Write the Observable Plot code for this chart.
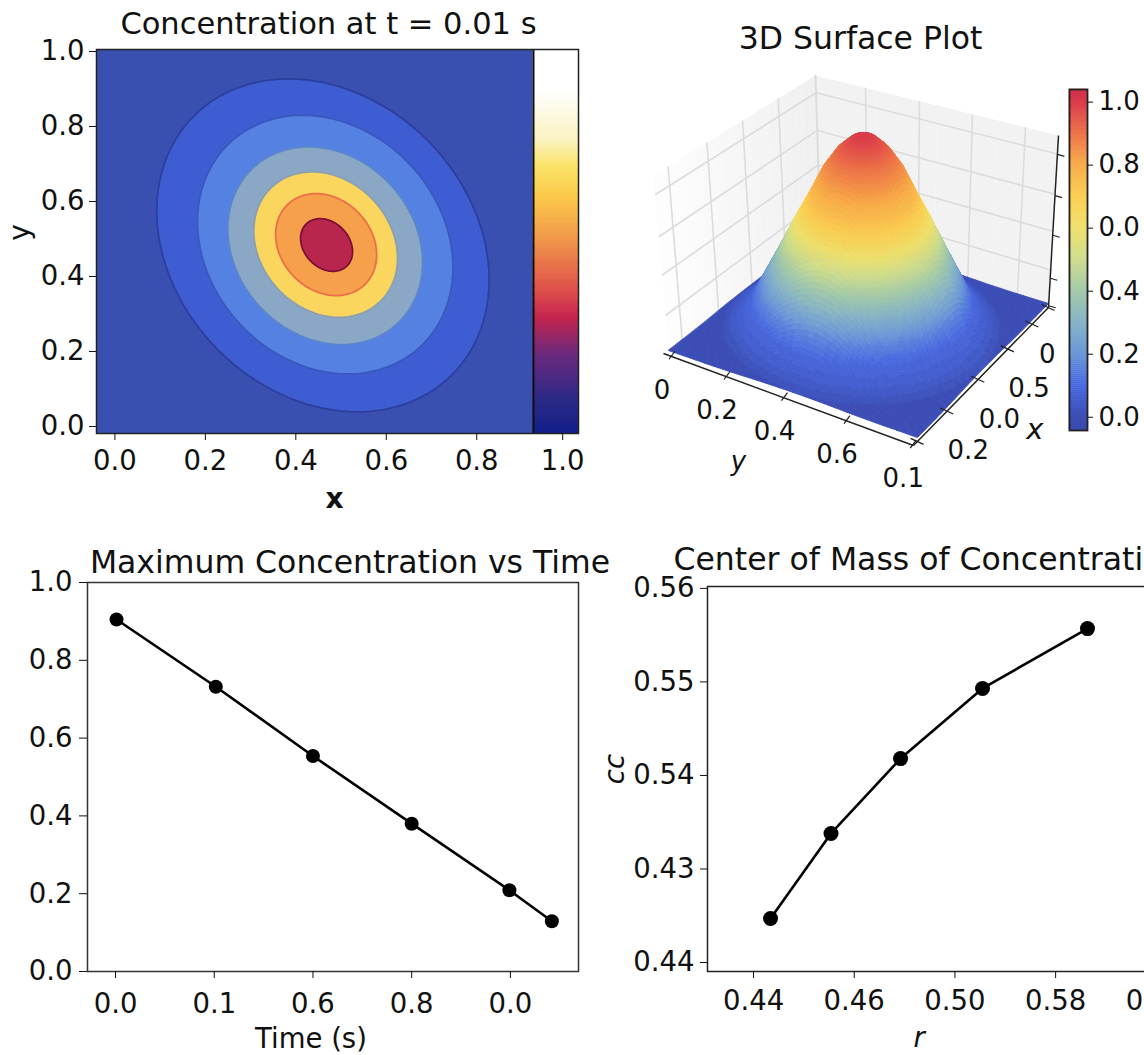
<!DOCTYPE html>
<html>
<head>
<meta charset="utf-8">
<script src="https://cdn.jsdelivr.net/npm/d3@7"></script>
<script src="https://cdn.jsdelivr.net/npm/@observablehq/plot@0.6"></script>
<style>
html,body{margin:0;padding:0;background:#fff;overflow:hidden}
#root{position:relative;width:1144px;height:1055px;overflow:hidden;background:#fff}
svg{position:absolute}
</style>
</head>
<body>
<div id="root"></div>
<script>
// ---------- Data ----------
const timeValues = [0.001, 0.1016, 0.2, 0.3, 0.399, 0.442];
const maxConcentration = [0.905, 0.732, 0.554, 0.38, 0.209, 0.129];
const timeTicks = [0, 0.1, 0.2, 0.3, 0.4];
const timeTickLabels = ["0.0", "0.1", "0.6", "0.8", "0.0"];
const unitTicks = [0, 0.2, 0.4, 0.6, 0.8, 1];
const unitTickLabels = ["0.0", "0.2", "0.4", "0.6", "0.8", "1.0"];

const massR = [0.44338, 0.45539, 0.4692, 0.48548, 0.50633];
const massC = [0.5247, 0.5338, 0.5418, 0.5493, 0.5557];
const rTicks = [0.44, 0.46, 0.48, 0.5, 0.52];
const rTickLabels = ["0.44", "0.46", "0.50", "0.58", "0.60"];
const cTicks = [0.52, 0.53, 0.54, 0.55, 0.56];
const cTickLabels = ["0.44", "0.43", "0.54", "0.55", "0.56"];

// Contour bands at t = 0.01 s: centre, half extents and tilt of each closed level
const levelCx = [0.46, 0.465, 0.465, 0.466, 0.467, 0.468];
const levelCy = [0.483, 0.485, 0.482, 0.485, 0.485, 0.484];
const levelW = [0.3675, 0.2825, 0.2154, 0.159, 0.1117, 0.0574];
const levelH = [0.444, 0.345, 0.2636, 0.194, 0.136, 0.0702];
const levelTilt = [-0.207, -0.177, -0.17, -0.187, -0.2, -0.25];
const levelFill = ["#3f5dd2", "#5582e2", "#8aa8c6", "#fbd65e", "#f6a04c", "#b8264e"];
const levelEdge = ["#2c3f9c", "#3a58bc", "#5c86cc", "#8d9fae", "#ea6e48", "#7c1034"];
const fieldBackground = "#3a50b0";

// Colormap shown beside the contour plot
const bar1Stops = [0, 0.08, 0.2, 0.3, 0.367, 0.5, 0.61, 0.69, 0.76, 0.89, 1];
const bar1Colors = ["#15208a", "#2a2a86", "#6a2a80", "#c4264f", "#de4f4c", "#f0964a", "#fcc84a", "#fae266", "#faf3c0", "#ffffff", "#ffffff"];

// Surface colormap
const surfStops = [-0.04, 0, 0.1, 0.2, 0.3, 0.4, 0.5, 0.6, 0.7, 0.8, 0.9, 1, 1.04];
const surfColors = ["#3a4ab0", "#3b4db5", "#4a6ae0", "#6a96d8", "#85b2c5", "#a2c9a8", "#cfdc8a", "#f0e06a", "#fbcd50", "#f8ab48", "#ec7048", "#d93a4a", "#d0304e"];
const barTicks = [1, 0.8, 0.6, 0.4, 0.2, 0];
const barTickLabels = ["1.0", "0.8", "0.0", "0.4", "0.2", "0.0"];

// Surface height against distance from the peak on the floor
const profileR = [0, 0.025, 0.05, 0.1, 0.15, 0.2, 0.25, 0.3, 0.35, 0.4, 0.45, 0.5, 0.55, 0.6, 1];
const profileZ = [1, 0.994, 0.975, 0.91, 0.81, 0.67, 0.54, 0.40, 0.265, 0.13, 0.05, 0.008, 0.002, 0, 0];
// Height against the shade it takes on the colormap, as seen on the front face
const shadeHeight = [0, 0.05, 0.13, 0.2, 0.27, 0.4, 0.5, 0.6, 0.7, 0.9, 1];
const shadeValue = [0, 0.05, 0.09, 0.15, 0.24, 0.4, 0.52, 0.65, 0.75, 0.9, 1];

// 3D view: ticks along the axes
const yAxisTicks = [0.03, 0.25, 0.48, 0.73, 0.995];
const yAxisLabels = ["0", "0.2", "0.4", "0.6", "0.1"];
const xAxisTicks = [0.03, 0.25, 0.48, 0.7, 0.88, 1];
const xLabelTicks = [0.25, 0.48, 0.7];
const xAxisLabels = ["0.2", "0.0", "0.5"];
const zAxisTicks = [0.01, 0.17, 0.42, 0.65, 0.89];
const leftWallGrid = [0.09, 0.33, 0.55, 0.77];
const rightWallGrid = [0.206, 0.428, 0.646, 0.864];
const wallLevels = [0.2, 0.43, 0.65, 0.89];

// ---------- Helpers ----------
const root = document.getElementById("root");
const font = "'DejaVu Sans', sans-serif";
const baseStyle = {fontFamily: font, fontSize: "27.5px", background: "transparent", overflow: "visible", color: "#111"};
const style3d = {...baseStyle, fontSize: "26px"};
function place(svg, left, top) { svg.style.left = left + "px"; svg.style.top = top + "px"; root.appendChild(svg); }
const lookup = (keys, vals) => { const m = new Map(keys.map((k, i) => [k, vals[i]])); return d => m.get(d) ?? ""; };
const lerp = (a, b, t) => [a[0] + (b[0] - a[0]) * t, a[1] + (b[1] - a[1]) * t];

// ---------- Panel 1: contour ----------
const x1Min = -0.0407, x1Max = 1.025, xDivider = 0.9255;
const contourRows = levelW.map((w, i) =>
  d3.range(0, 120).map(k => {
    const t = k / 120 * 2 * Math.PI, d = Math.acos(levelTilt[i]);
    return {x: levelCx[i] + w * Math.cos(t), y: levelCy[i] + levelH[i] * Math.cos(t - d)};
  })
);
const bar1Rows = d3.range(0, 192).map(i => ({v0: i / 192, v1: (i + 1) / 192}));
const y1Min = -0.0187, y1Max = 1.0053;
const toY1 = v => y1Min + (y1Max - y1Min) * v;
place(Plot.plot({
  width: 600, height: 520, marginLeft: 96, marginRight: 22, marginTop: 49, marginBottom: 87,
  style: baseStyle,
  x: {domain: [x1Min, x1Max]}, y: {domain: [y1Min, y1Max]},
  color: {type: "linear", domain: bar1Stops, range: bar1Colors, interpolate: "rgb"},
  marks: [
    Plot.frame({fill: fieldBackground, stroke: null}),
    ...contourRows.map((rows, i) => Plot.line(rows, {x: "x", y: "y", curve: "linear-closed", fill: levelFill[i], stroke: levelEdge[i], strokeWidth: 1.8})),
    Plot.rect(bar1Rows, {x1: () => xDivider, x2: () => x1Max, y1: d => toY1(d.v0), y2: d => toY1(d.v1), fill: "v0", stroke: "v0", strokeWidth: 0.6}),
    Plot.ruleX([xDivider], {stroke: "#111", strokeWidth: 2}),
    Plot.frame({stroke: "#222", strokeWidth: 1.5}),
    Plot.axisX({ticks: [0, 0.2, 0.4, 0.6, 0.8, 0.99], tickFormat: lookup([0, 0.2, 0.4, 0.6, 0.8, 0.99], unitTickLabels), tickSize: 7, tickPadding: 10, label: null, fontVariant: "normal"}),
    Plot.axisY({ticks: unitTicks, tickFormat: lookup(unitTicks, unitTickLabels), tickSize: 7, tickPadding: 5, label: null, fontVariant: "normal"}),
    Plot.text(["Concentration at t = 0.01 s"], {frameAnchor: "top", lineAnchor: "middle", dy: -25, dx: -9, fontSize: 30.5}),
    Plot.text(["x"], {frameAnchor: "bottom", lineAnchor: "middle", dy: 66, dx: -3, fontSize: 28, fontWeight: 600}),
    Plot.text(["y"], {frameAnchor: "left", textAnchor: "middle", rotate: -90, dx: -76, dy: -9, fontSize: 28})
  ]
}), 0, 0);

// ---------- Panel 2: 3D surface ----------
const cA = [668, 350], cB = [917, 437], cC = [1048, 303], cD = [820, 232];
const lTop0 = [653, 175], backTop = [815, 75], rTop1 = [1058, 135];
const zPix = 196;
const floor = (u, v) => lerp(lerp(cA, cB, u), lerp(cD, cC, u), v);
const leftWall = (s, t) => lerp(lerp(cA, cD, s), lerp(lTop0, backTop, s), t);
const rightWall = (s, t) => lerp(lerp(cD, cC, s), lerp(backTop, rTop1, s), t);
const heightAt = d3.scaleLinear(profileR, profileZ).clamp(true);
const shadeOf = d3.scaleLinear(shadeHeight, shadeValue);
const N = 110;
const z = (u, v) => heightAt(Math.hypot(u - 0.5, v - 0.5));
const proj = (u, v) => { const f = floor(u, v); return [f[0], f[1] - zPix * z(u, v)]; };
const quads = [];
for (let i = 0; i < N; i++) for (let j = 0; j < N; j++) quads.push([i, j]);
quads.sort((a, b) => (a[0] - a[1]) - (b[0] - b[1]));
const surfaceRows = [];
quads.forEach(([i, j], id) => {
  const u0 = i / N, u1 = (i + 1) / N, v0 = j / N, v1 = (j + 1) / N;
  const s = shadeOf(z((u0 + u1) / 2, (v0 + v1) / 2));
  const band = s < 0.35 ? Math.round(s * 50) / 50 : s;
  [[u0, v0], [u1, v0], [u1, v1], [u0, v1]].forEach(([u, v]) => {
    const p = proj(u, v);
    surfaceRows.push({id, x: p[0], y: p[1], band});
  });
});
const wallRows = (fn, steps, op0, op1) => d3.range(steps).flatMap(k => {
  const s0 = k / steps, s1 = (k + 1) / steps, o = op0 + (op1 - op0) * s0;
  return [[s0, 0], [s1, 0], [s1, 1], [s0, 1]].map(([s, t]) => { const p = fn(s, t); return {k, x: p[0], y: p[1], o}; });
});
const gridLines = (fn, sList, tList) => [
  ...sList.map(s => ({a: fn(s, 0), b: fn(s, 1)})),
  ...tList.map(t => ({a: fn(0, t), b: fn(1, t)}))
];
const yAxisA = [663, 353], yAxisB = [913, 445], xAxisB = [1048, 307], zAxisTop = [1058, 135];
const tick = (list, fn, dx0, dy0, dx1, dy1) => list.map(t => { const p = fn(t); return {x1: p[0] + dx0, y1: p[1] + dy0, x2: p[0] + dx1, y2: p[1] + dy1}; });
const axisLines = [
  {x1: yAxisA[0], y1: yAxisA[1], x2: yAxisB[0], y2: yAxisB[1]},
  {x1: yAxisB[0], y1: yAxisB[1], x2: xAxisB[0], y2: xAxisB[1]},
  {x1: xAxisB[0], y1: xAxisB[1], x2: zAxisTop[0], y2: zAxisTop[1]}
];
const yAt = t => lerp(yAxisA, yAxisB, t), xAt = t => lerp(yAxisB, xAxisB, t), zAt = t => lerp(xAxisB, zAxisTop, t);
place(Plot.plot({
  width: 514, height: 520, margin: 0,
  style: style3d,
  x: {domain: [630, 1144], axis: null}, y: {domain: [520, 0], axis: null},
  color: {type: "linear", domain: surfStops, range: surfColors, interpolate: "rgb"},
  marks: [
    Plot.line(wallRows(leftWall, 24, 0.1, 1), {x: "x", y: "y", z: "k", fill: "#efefef", fillOpacity: "o", stroke: null}),
    Plot.line(wallRows(rightWall, 4, 1, 1), {x: "x", y: "y", z: "k", fill: "#f2f2f2", stroke: null}),
    Plot.link(gridLines(leftWall, leftWallGrid, wallLevels), {x1: d => d.a[0], y1: d => d.a[1], x2: d => d.b[0], y2: d => d.b[1], stroke: "#dcdcdc", strokeWidth: 1.6}),
    Plot.link(gridLines(rightWall, rightWallGrid, wallLevels), {x1: d => d.a[0], y1: d => d.a[1], x2: d => d.b[0], y2: d => d.b[1], stroke: "#dcdcdc", strokeWidth: 1.6}),
    Plot.line([backTop, cD], {x: d => d[0], y: d => d[1], stroke: "#dcdcdc", strokeWidth: 2}),
    Plot.line(surfaceRows, {x: "x", y: "y", z: "id", fill: "band", stroke: "band", strokeWidth: 0.8, curve: "linear-closed"}),
    Plot.link(axisLines, {x1: "x1", y1: "y1", x2: "x2", y2: "y2", stroke: "#222", strokeWidth: 1.5}),
    Plot.link(tick(yAxisTicks, yAt, -2, 3, 4, -5), {x1: "x1", y1: "y1", x2: "x2", y2: "y2", stroke: "#222", strokeWidth: 1.2}),
    Plot.link(tick(xAxisTicks, xAt, -7, -3, 6, 3), {x1: "x1", y1: "y1", x2: "x2", y2: "y2", stroke: "#222", strokeWidth: 1.2}),
    Plot.link(tick(zAxisTicks, zAt, 0, 0, 7, 2), {x1: "x1", y1: "y1", x2: "x2", y2: "y2", stroke: "#222", strokeWidth: 1.2}),
    Plot.text(yAxisLabels.map((t, i) => ({t, p: yAt(yAxisTicks[i])})), {text: "t", x: d => d.p[0], y: d => d.p[1], dx: -9, dy: 34}),
    Plot.text(xAxisLabels.map((t, i) => ({t, p: xAt(xLabelTicks[i])})), {text: "t", x: d => d.p[0], y: d => d.p[1], dx: 21, dy: 40}),
    Plot.text(["0"], {x: () => xAt(0.88)[0], y: () => xAt(0.88)[1], dx: 15, dy: 31}),
    Plot.text(["y"], {x: () => yAt(0.32)[0], y: () => yAt(0.32)[1], dy: 79, dx: -5, fontStyle: "italic"}),
    Plot.text(["x"], {x: () => xAt(0.55)[0], y: () => xAt(0.55)[1], dy: 60, dx: 47, fontStyle: "italic", fontSize: 29}),
    Plot.text(["3D Surface Plot"], {x: () => 860, y: () => 38, fontSize: 31.5})
  ]
}), 630, 0);

// Surface colorbar
const bar2Rows = d3.range(0, 170).map(i => ({v0: -0.042 + 1.082 * i / 170, v1: -0.042 + 1.082 * (i + 1) / 170}));
place(Plot.plot({
  width: 94, height: 361, marginLeft: 19, marginRight: 57, marginTop: 10, marginBottom: 10,
  style: style3d,
  x: {domain: [0, 1], axis: null}, y: {domain: [-0.042, 1.04]},
  color: {type: "linear", domain: surfStops, range: surfColors, interpolate: "rgb"},
  marks: [
    Plot.rect(bar2Rows, {x1: () => 0, x2: () => 1, y1: "v0", y2: "v1", fill: "v0", stroke: "v0", strokeWidth: 0.5}),
    Plot.frame({stroke: "#222", strokeWidth: 1.8}),
    Plot.axisY({anchor: "right", ticks: barTicks, tickFormat: lookup(barTicks, barTickLabels), tickSize: 5, tickPadding: 6, label: null, fontVariant: "normal"})
  ]
}), 1050, 79);

// ---------- Panel 3: maximum concentration ----------
const maxRows = timeValues.map((t, i) => ({t, c: maxConcentration[i]}));
place(Plot.plot({
  width: 620, height: 525, marginLeft: 87, marginRight: 42, marginTop: 52, marginBottom: 84,
  style: baseStyle,
  x: {domain: [-0.0284, 0.469]}, y: {domain: [0, 1]},
  marks: [
    Plot.frame({stroke: "#333", strokeWidth: 1.5}),
    Plot.axisX({ticks: timeTicks, tickFormat: lookup(timeTicks, timeTickLabels), tickSize: 7, tickPadding: 15, label: null, fontVariant: "normal"}),
    Plot.axisY({ticks: unitTicks, tickFormat: lookup(unitTicks, unitTickLabels), tickSize: 8, tickPadding: 7, label: null, fontVariant: "normal"}),
    Plot.line(maxRows, {x: "t", y: "c", stroke: "#000", strokeWidth: 2.6}),
    Plot.dot(maxRows, {x: "t", y: "c", r: 7, fill: "#000"}),
    Plot.text(["Maximum Concentration vs Time"], {frameAnchor: "top", lineAnchor: "middle", dy: -20, dx: 17, fontSize: 31.5}),
    Plot.text(["Time (s)"], {frameAnchor: "bottom", lineAnchor: "middle", dy: 68, dx: -22, fontSize: 27.5})
  ]
}), 0, 530);

// ---------- Panel 4: centre of mass ----------
const massRows = massR.map((r, i) => ({r, c: massC[i]}));
place(Plot.plot({
  width: 660, height: 525, marginLeft: 107, marginRight: 0, marginTop: 56, marginBottom: 84,
  style: baseStyle,
  x: {domain: [0.43086, 0.54069]}, y: {domain: [0.51904, 0.5602]},
  marks: [
    Plot.frame({stroke: "#222", strokeWidth: 1.5}),
    Plot.axisX({ticks: rTicks, tickFormat: lookup(rTicks, rTickLabels), tickSize: 7, tickPadding: 12, label: null, fontVariant: "normal"}),
    Plot.axisY({ticks: cTicks, tickFormat: lookup(cTicks, cTickLabels), tickSize: 7, tickPadding: 6, label: null, fontVariant: "normal"}),
    Plot.line(massRows, {x: "r", y: "c", stroke: "#000", strokeWidth: 2.6}),
    Plot.dot(massRows, {x: "r", y: "c", r: 7.5, fill: "#000"}),
    Plot.text(["Center of Mass of Concentration"], {frameAnchor: "top-left", textAnchor: "start", lineAnchor: "middle", dy: -27, dx: -34, fontSize: 31.5}),
    Plot.text(["r"], {frameAnchor: "bottom-left", lineAnchor: "middle", dy: 67, dx: 206, fontStyle: "italic"}),
    Plot.text(["cc"], {frameAnchor: "left", textAnchor: "middle", rotate: -90, dx: -92, dy: -10, fontStyle: "italic"})
  ]
}), 600, 530);
</script>
</body>
</html>
